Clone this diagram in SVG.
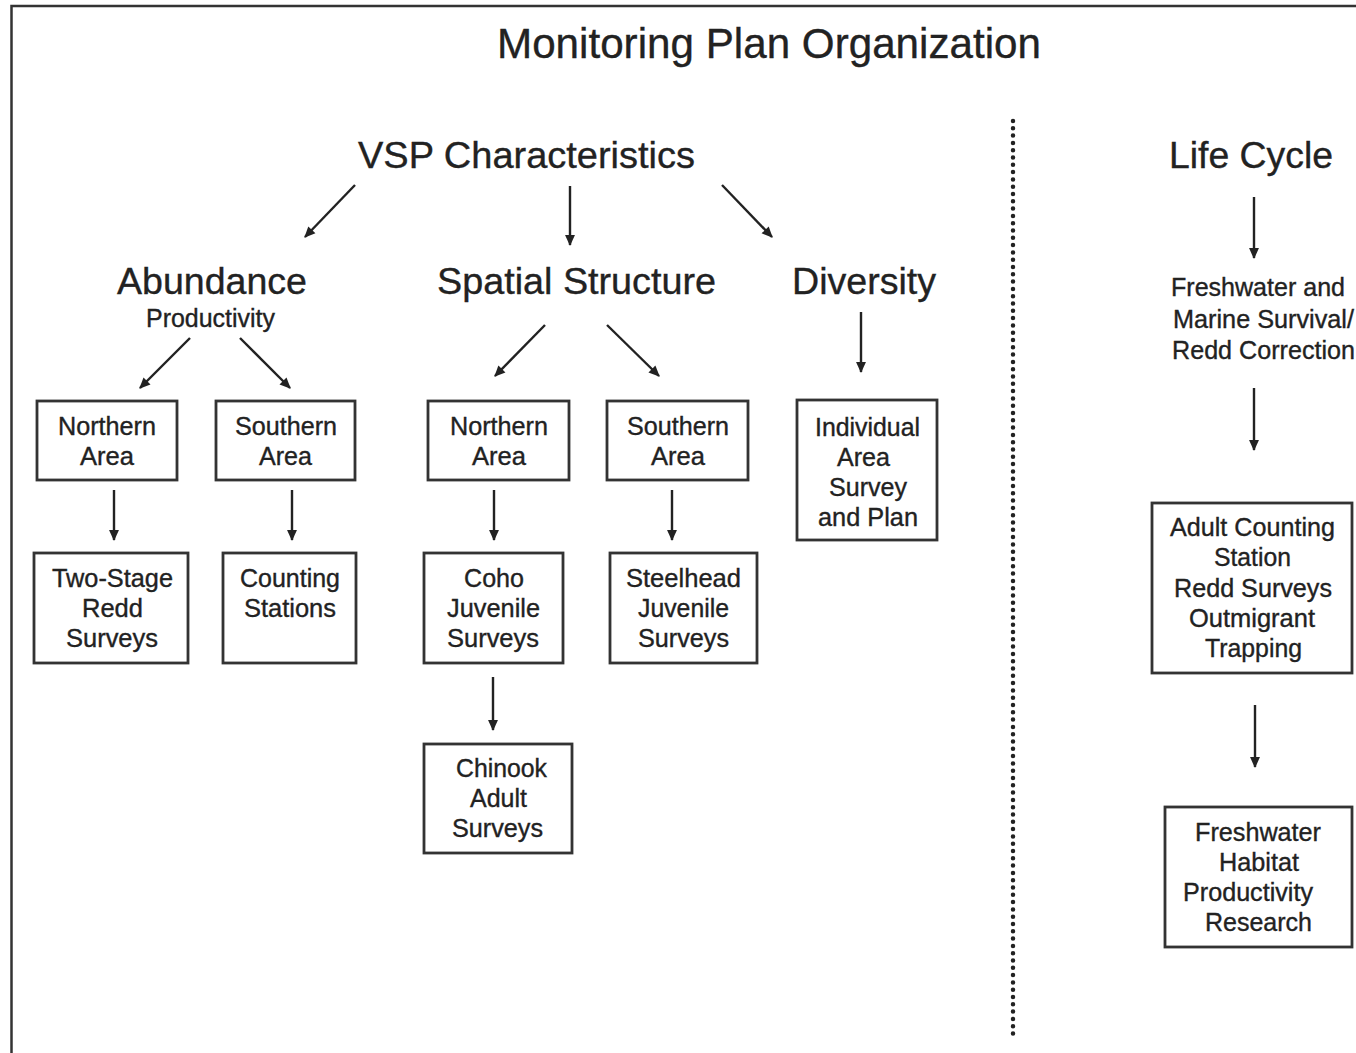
<svg xmlns="http://www.w3.org/2000/svg" width="1356" height="1053" viewBox="0 0 1356 1053">
  <style>
    text { font-family: "Liberation Sans", Arial, sans-serif; fill: #222; stroke: #222; stroke-width: 0.35; }
    .title { font-size: 42px; }
    .head { font-size: 37px; }
    .sub { font-size: 25px; }
    .lbl { font-size: 25px; }
    .box { fill: #fff; stroke: #333; stroke-width: 2.8; }
    .frame { fill: none; stroke: #333; stroke-width: 2.5; }
    .edge { fill: none; stroke: #222; stroke-width: 2.4; marker-end: url(#head); }
    .divider { fill: none; stroke: #222; stroke-width: 4.5; stroke-linecap: round; stroke-dasharray: 0 7.3; }
  </style>
  <defs>
    <marker id="head" viewBox="0 0 10 10" refX="9" refY="5" markerWidth="12" markerHeight="11" markerUnits="userSpaceOnUse" orient="auto">
      <path d="M0,0.5 L10,5 L0,9.5 z" fill="#222"/>
    </marker>
  </defs>

  <rect x="0" y="0" width="1356" height="1053" fill="#fff"/>

  <!-- page frame (top and left edges) -->
  <path class="frame" d="M11.5,1053 L11.5,6 L1356,6"/>

  <!-- vertical dotted divider -->
  <line class="divider" x1="1013" y1="121" x2="1013" y2="1040"/>

  <g id="title">
    <text class="title" x="497" y="58" textLength="544" lengthAdjust="spacingAndGlyphs">Monitoring Plan Organization</text>
  </g>

  <g id="vsp">
    <text class="head" x="358" y="168" textLength="337" lengthAdjust="spacingAndGlyphs">VSP Characteristics</text>
  </g>
  <g id="abundance">
    <text class="head" x="117" y="294" textLength="190" lengthAdjust="spacingAndGlyphs">Abundance</text>
    <text class="sub" x="146" y="327" textLength="129" lengthAdjust="spacingAndGlyphs">Productivity</text>
  </g>
  <g id="spatial">
    <text class="head" x="437" y="294" textLength="279" lengthAdjust="spacingAndGlyphs">Spatial Structure</text>
  </g>
  <g id="diversity">
    <text class="head" x="792" y="294" textLength="144" lengthAdjust="spacingAndGlyphs">Diversity</text>
  </g>
  <g id="lifecycle">
    <text class="head" x="1169" y="168" textLength="164" lengthAdjust="spacingAndGlyphs">Life Cycle</text>
  </g>
  <g id="survival">
    <text class="lbl" x="1171" y="296" textLength="174" lengthAdjust="spacingAndGlyphs">Freshwater and</text>
    <text class="lbl" x="1173" y="328" textLength="181" lengthAdjust="spacingAndGlyphs">Marine Survival/</text>
    <text class="lbl" x="1172" y="359" textLength="183" lengthAdjust="spacingAndGlyphs">Redd Correction</text>
  </g>

  <!-- Abundance branch -->
  <g id="ab-north">
    <rect class="box" x="37" y="401" width="140" height="79"/>
    <text class="lbl" x="58" y="435" textLength="98" lengthAdjust="spacingAndGlyphs">Northern</text>
    <text class="lbl" x="80" y="465" textLength="54" lengthAdjust="spacingAndGlyphs">Area</text>
  </g>
  <g id="ab-south">
    <rect class="box" x="216" y="401" width="139" height="79"/>
    <text class="lbl" x="235" y="435" textLength="102" lengthAdjust="spacingAndGlyphs">Southern</text>
    <text class="lbl" x="259" y="465" textLength="53" lengthAdjust="spacingAndGlyphs">Area</text>
  </g>
  <g id="two-stage">
    <rect class="box" x="34" y="553" width="154" height="110"/>
    <text class="lbl" x="52" y="587" textLength="121" lengthAdjust="spacingAndGlyphs">Two-Stage</text>
    <text class="lbl" x="82" y="617" textLength="61" lengthAdjust="spacingAndGlyphs">Redd</text>
    <text class="lbl" x="66" y="647" textLength="92" lengthAdjust="spacingAndGlyphs">Surveys</text>
  </g>
  <g id="counting">
    <rect class="box" x="223" y="553" width="133" height="110"/>
    <text class="lbl" x="240" y="587" textLength="100" lengthAdjust="spacingAndGlyphs">Counting</text>
    <text class="lbl" x="244" y="617" textLength="92" lengthAdjust="spacingAndGlyphs">Stations</text>
  </g>

  <!-- Spatial Structure branch -->
  <g id="sp-north">
    <rect class="box" x="428" y="401" width="141" height="79"/>
    <text class="lbl" x="450" y="435" textLength="98" lengthAdjust="spacingAndGlyphs">Northern</text>
    <text class="lbl" x="472" y="465" textLength="54" lengthAdjust="spacingAndGlyphs">Area</text>
  </g>
  <g id="sp-south">
    <rect class="box" x="607" y="401" width="141" height="79"/>
    <text class="lbl" x="627" y="435" textLength="102" lengthAdjust="spacingAndGlyphs">Southern</text>
    <text class="lbl" x="651" y="465" textLength="54" lengthAdjust="spacingAndGlyphs">Area</text>
  </g>
  <g id="coho">
    <rect class="box" x="424" y="553" width="139" height="110"/>
    <text class="lbl" x="464" y="587" textLength="60" lengthAdjust="spacingAndGlyphs">Coho</text>
    <text class="lbl" x="447" y="617" textLength="93" lengthAdjust="spacingAndGlyphs">Juvenile</text>
    <text class="lbl" x="447" y="647" textLength="92" lengthAdjust="spacingAndGlyphs">Surveys</text>
  </g>
  <g id="steelhead">
    <rect class="box" x="610" y="553" width="147" height="110"/>
    <text class="lbl" x="626" y="587" textLength="115" lengthAdjust="spacingAndGlyphs">Steelhead</text>
    <text class="lbl" x="638" y="617" textLength="91" lengthAdjust="spacingAndGlyphs">Juvenile</text>
    <text class="lbl" x="638" y="647" textLength="91" lengthAdjust="spacingAndGlyphs">Surveys</text>
  </g>
  <g id="chinook">
    <rect class="box" x="424" y="744" width="148" height="109"/>
    <text class="lbl" x="456" y="777" textLength="91" lengthAdjust="spacingAndGlyphs">Chinook</text>
    <text class="lbl" x="470" y="807" textLength="57" lengthAdjust="spacingAndGlyphs">Adult</text>
    <text class="lbl" x="452" y="837" textLength="91" lengthAdjust="spacingAndGlyphs">Surveys</text>
  </g>

  <!-- Diversity branch -->
  <g id="individual">
    <rect class="box" x="797" y="400" width="140" height="140"/>
    <text class="lbl" x="815" y="436" textLength="105" lengthAdjust="spacingAndGlyphs">Individual</text>
    <text class="lbl" x="837" y="466" textLength="53" lengthAdjust="spacingAndGlyphs">Area</text>
    <text class="lbl" x="829" y="496" textLength="78" lengthAdjust="spacingAndGlyphs">Survey</text>
    <text class="lbl" x="818" y="526" textLength="100" lengthAdjust="spacingAndGlyphs">and Plan</text>
  </g>

  <!-- Life Cycle branch -->
  <g id="adult-counting">
    <rect class="box" x="1152" y="503" width="200" height="170"/>
    <text class="lbl" x="1170" y="536" textLength="165" lengthAdjust="spacingAndGlyphs">Adult Counting</text>
    <text class="lbl" x="1214" y="566" textLength="77" lengthAdjust="spacingAndGlyphs">Station</text>
    <text class="lbl" x="1174" y="597" textLength="158" lengthAdjust="spacingAndGlyphs">Redd Surveys</text>
    <text class="lbl" x="1189" y="627" textLength="126" lengthAdjust="spacingAndGlyphs">Outmigrant</text>
    <text class="lbl" x="1205" y="657" textLength="97" lengthAdjust="spacingAndGlyphs">Trapping</text>
  </g>
  <g id="habitat">
    <rect class="box" x="1165" y="807" width="187" height="140"/>
    <text class="lbl" x="1195" y="841" textLength="126" lengthAdjust="spacingAndGlyphs">Freshwater</text>
    <text class="lbl" x="1219" y="871" textLength="80" lengthAdjust="spacingAndGlyphs">Habitat</text>
    <text class="lbl" x="1183" y="901" textLength="130" lengthAdjust="spacingAndGlyphs">Productivity</text>
    <text class="lbl" x="1205" y="931" textLength="107" lengthAdjust="spacingAndGlyphs">Research</text>
  </g>

  <g id="connectors">
    <line class="edge" x1="355" y1="185" x2="305" y2="237"/>
    <line class="edge" x1="570" y1="186" x2="570" y2="245"/>
    <line class="edge" x1="722" y1="185" x2="772" y2="237"/>
    <line class="edge" x1="190" y1="338" x2="140" y2="388"/>
    <line class="edge" x1="240" y1="338" x2="290" y2="388"/>
    <line class="edge" x1="545" y1="325" x2="495" y2="376"/>
    <line class="edge" x1="607" y1="325" x2="659" y2="376"/>
    <line class="edge" x1="861" y1="312" x2="861" y2="372"/>
    <line class="edge" x1="114" y1="490" x2="114" y2="540"/>
    <line class="edge" x1="292" y1="490" x2="292" y2="540"/>
    <line class="edge" x1="494" y1="490" x2="494" y2="540"/>
    <line class="edge" x1="672" y1="490" x2="672" y2="540"/>
    <line class="edge" x1="493" y1="677" x2="493" y2="730"/>
    <line class="edge" x1="1254" y1="197" x2="1254" y2="258"/>
    <line class="edge" x1="1254" y1="388" x2="1254" y2="450"/>
    <line class="edge" x1="1255" y1="705" x2="1255" y2="767"/>
  </g>
</svg>
